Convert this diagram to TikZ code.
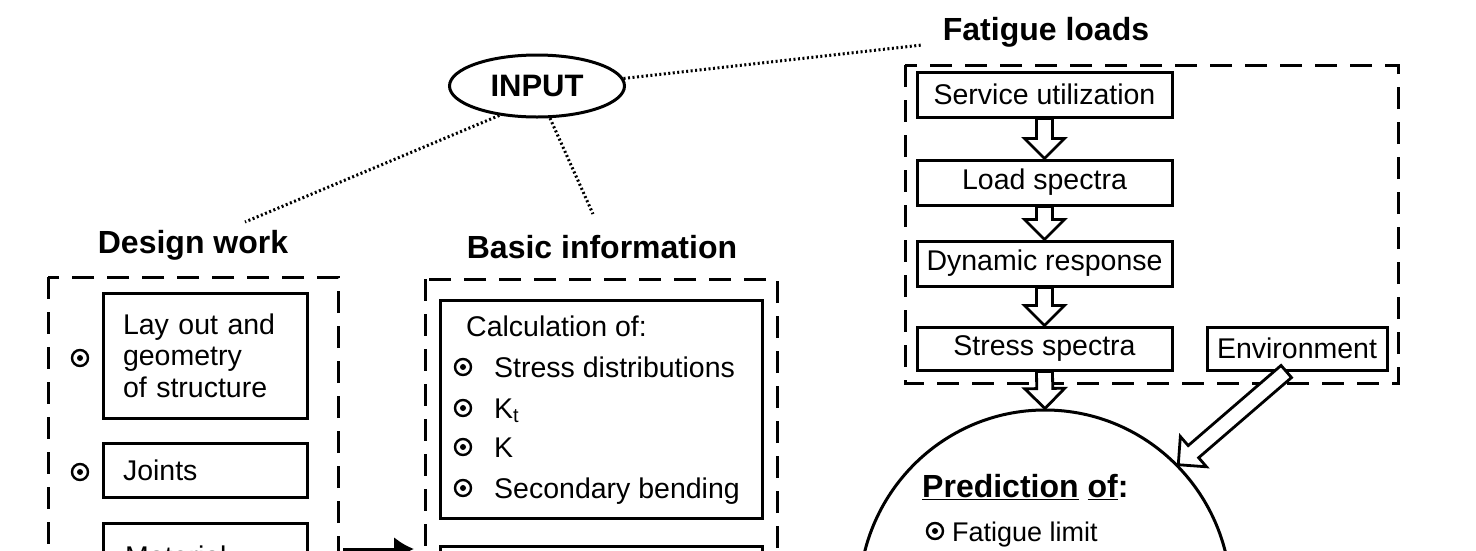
\documentclass[tikz,border=0pt]{standalone}
\usepackage{fontspec}
\setmainfont{Liberation Sans}
\usetikzlibrary{shapes.geometric,calc,arrows.meta}
%
\tikzset{
  box/.style={draw, line width=3pt, rectangle, inner sep=0pt},
  grp/.style={draw, line width=3pt, dash pattern=on 22pt off 13pt},
  dots/.style={line width=3pt, dash pattern=on 2pt off 2.5pt},
  bul/.style={draw, circle, line width=2.4pt, minimum size=16pt, inner sep=0pt,
    path picture={\fill (path picture bounding box.center) circle (3pt);}},
  txt/.style={font=\fontsize{28.5}{31.5}\selectfont, inner sep=0pt},
  hd/.style={font=\fontsize{32}{38}\selectfont\bfseries, inner sep=0pt},
  hol/.style={line width=2.8pt, fill=white, line join=miter},
}
%
\newcommand{\hollowarrow}[2]{%
\draw [hol] ($(#1)!8pt!90:(#2)$) -- ($(#2)!20pt!(#1)!8pt!90:(#2)$)
  -- ($(#2)!20pt!(#1)!20pt!90:(#2)$) -- (#2)
  -- ($(#2)!20pt!(#1)!20pt!-90:(#2)$) -- ($(#2)!20pt!(#1)!8pt!-90:(#2)$)
  -- ($(#1)!8pt!-90:(#2)$) -- cycle;}
%
\begin{document}
\begin{tikzpicture}[x=1pt, y=-1pt]
\useasboundingbox (0,0) rectangle (1476,550);
\clip (0,0) rectangle (1476,550);
%
\node [draw, ellipse, line width=3pt, minimum width=175pt, minimum height=62pt, inner sep=0pt,
  font=\fontsize{31}{36}\selectfont\bfseries] (in) at (537,86) {INPUT};
\node [hd] (h1) at (193,245) {Design work};
\node [hd] (h2) at (602,247) {Basic information};
\node [hd] (h3) at (1046,32) {Fatigue loads};
%
\coordinate (v1) at (245,222);
\coordinate (v2) at (593,214);
\coordinate (v3) at (922,45);
\draw [dots] (in.218) -- (v1);
\draw [dots] (in.292) -- (v2);
\draw [dots] (in.5) -- (v3);
%
%
%
\draw [grp] (48,277) rectangle (338,640);
\node [box, txt, minimum width=204pt, minimum height=125pt, text width=164pt, align=left] (d1) at (205,355.5) {Lay out and\\geometry\\of structure};
\node [box, txt, minimum width=204pt, minimum height=54pt, text width=164pt, align=left] (d2) at (205,470) {Joints};
\node [box, minimum width=204pt, minimum height=110pt] (d3) at (205,578) {};
\node [txt, anchor=base west] (t3) at (125,566) {Material};
\node [bul] (o1) at (80,358) {};
\node [bul] (o2) at (80,472) {};
%
\coordinate (v4) at (343,549);
\coordinate (v5) at (414,549);
\draw [line width=3pt, -{Latex[length=20pt,width=24pt]}] (v4) -- (v5);
%
%
%
\draw [grp] (425,279) rectangle (777,640);
\node [box, minimum width=322pt, minimum height=218pt] (b1) at (601,409) {};
\node [txt, anchor=base west] (c0) at (466,336) {Calculation of:};
\foreach \y/\t [count=\i] in {367/Stress distributions, 408/K\textsubscript{t}, 447/K, 488/Secondary bending} {
  \node [bul] (ob\i) at (463,\y) {};
  \node [txt, anchor=base west] (c\i) at (494,\y+10) {\t};
}
\node [box, minimum width=322pt, minimum height=100pt] (b2) at (601,596) {};
%
%
%
\draw [grp] (905,65) rectangle (1398,383);
\node [box, txt, minimum width=255pt, minimum height=45pt] (f1) at (1044.5,94.5) {Service utilization};
\node [box, txt, minimum width=255pt, minimum height=45pt] (f2) at (1044.5,182.5) {Load spectra};
\node [box, txt, minimum width=255pt, minimum height=45pt] (f3) at (1044.5,263.5) {Dynamic response};
\node [box, txt, minimum width=255pt, minimum height=43pt] (f4) at (1044.5,348.5) {Stress spectra};
\node [box, txt, minimum width=180pt, minimum height=43pt] (env) at (1297,348.5) {Environment};
%
\node [draw, ellipse, line width=3pt, minimum width=372pt, minimum height=376pt, inner sep=0pt] (p) at (1045,598) {};
\node [hd, anchor=base west] (p1) at (922,497) {\underline{Prediction} \underline{of}:};
\node [bul] (op) at (935,531) {};
\node [txt, font=\fontsize{27}{30}\selectfont, anchor=base west] (p2) at (952,541) {Fatigue limit};
%
\hollowarrow{f1.south}{f2.north}
\hollowarrow{f2.south}{f3.north}
\hollowarrow{f3.south}{f4.north}
\hollowarrow{f4.south}{p.north}
\hollowarrow{env.245}{p.45}
%
\end{tikzpicture}
\end{document}
